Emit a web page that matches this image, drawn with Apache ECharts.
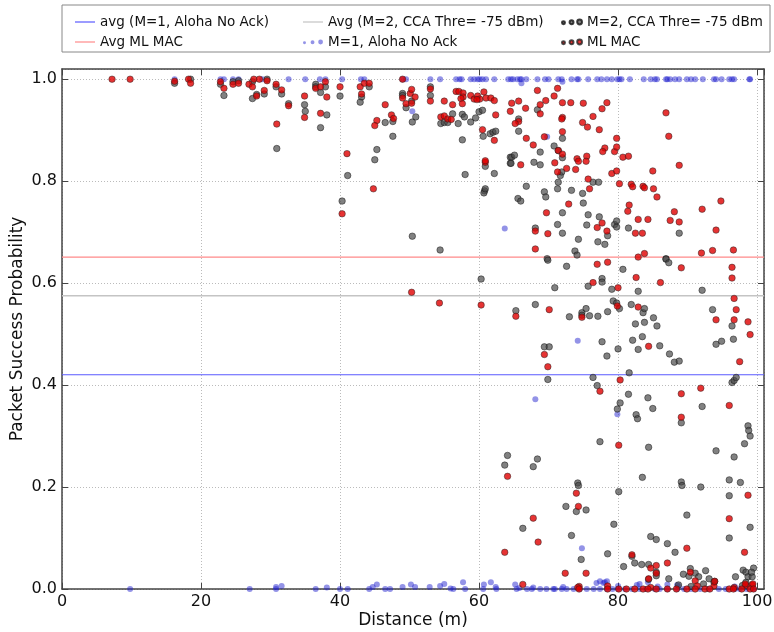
<!DOCTYPE html>
<html><head><meta charset="utf-8">
<script src="https://cdn.jsdelivr.net/npm/echarts@6/dist/echarts.min.js"></script>
<style>html,body{margin:0;padding:0;background:#fff}#c{width:774px;height:632px}</style>
</head><body><div id="c"></div>
<script>
// ---- data ----
const avgAloha = 0.4203;
const avgCca = 0.575;
const avgMl = 0.651;

const alohaTop = [16.2,22.8,23.3,24.6,25.4,28.8,32.6,35.0,37.1,37.9,40.3,43.0,43.5,49.0,49.5,53.0,54.4,56.7,57.2,57.5,58.8,59.3,59.8,60.1,60.5,61.0,62.2,64.2,64.6,64.9,65.5,65.9,66.1,66.8,68.4,69.5,70.0,71.4,71.9,73.3,74.1,74.3,75.7,77.0,77.6,78.4,79.1,79.9,80.2,80.5,81.7,83.7,84.7,85.3,85.6,86.9,87.1,87.5,88.2,88.8,89.9,90.5,91.1,92.2,93.8,94.1,94.9,96.0,96.4,96.7,98.9,99.0];
const alohaBottom = [9.8,27.0,30.8,36.5,40.0,41.1,44.2,46.5,47.2,56.3,58.0,60.6,62.5,65.4,66.9,67.6,68.8,69.7,70.7,70.9,71.9,72.6,73.6,74.5,75.5,76.5,77.4,78.4,79.2,80.0,81.0,82.0,83.1,84.0,85.3,86.0,87.1,88.5,89.5,90.5,91.8,93.0,94.5,95.5,96.8,97.5,98.5,99.5];
const alohaOther = [[66.1,0.992],[72.0,0.995],[50.4,0.937],[63.7,0.707],[69.8,0.887],[74.2,0.487],[68.1,0.372],[79.9,0.343],[74.8,0.080],
 [30.8,0.004],[31.6,0.006],[38.1,0.003],[44.7,0.004],[45.3,0.009],[49.0,0.004],[50.2,0.009],[50.8,0.004],[52.9,0.004],[54.4,0.006],[55.0,0.010],[55.9,0.001],[57.7,0.013],[60.7,0.009],[61.7,0.013],[62.4,0.004],[65.2,0.009],[65.8,0.002],[67.8,0.003],[72.1,0.004],
 [76.9,0.012],[77.4,0.015],[78.1,0.013],[78.4,0.015],[77.9,0.012],[80.0,0.006],[83.1,0.010],[82.7,0.008],[84.3,0.013],[85.7,0.005],[87.1,0.009],[88.7,0.006],[88.5,0.008],[96.8,0.005]];

const ccaPts = [[16.2,0.992],[18.5,1.0],[22.8,0.99],[23.3,0.968],[24.6,0.995],[25.4,0.997],[27.4,0.995],[27.4,0.962],[28.0,0.97],[29.5,1.0],[29.1,0.971],[30.8,0.985],[31.6,0.971],[32.6,0.952],[30.9,0.864],[34.9,0.95],[35.0,0.937],[36.5,0.99],[36.5,0.985],[37.2,0.974],[37.9,0.985],[38.1,0.93],[37.2,0.905],[40.0,0.967],[41.1,0.811],[40.3,0.761],[43.1,0.965],[42.9,0.955],[44.2,0.985],[45.3,0.862],[45.0,0.842],[46.5,0.915],[47.6,0.917],[47.6,0.888],[49.0,0.972],[49.0,0.968],[49.5,0.944],[50.3,0.957],[50.4,0.916],[50.9,0.926],[50.4,0.692],[53.0,0.968],[53.0,0.985],[54.4,0.665],[54.5,0.913],[55.0,0.915],[55.5,0.915],[56.2,0.932],[57.0,0.913],[57.6,0.931],[57.9,0.926],[57.6,0.881],[58.0,0.813],[58.8,0.916],[59.5,0.924],[60.0,0.936],[60.5,0.939],[60.6,0.888],[61.6,0.893],[62.0,0.896],[62.4,0.898],[60.9,0.829],[62.2,0.815],[60.8,0.781],[60.7,0.777],[60.9,0.785],[64.5,0.847],[64.5,0.835],
 [65.7,0.922],[65.7,0.898],[68.4,0.940],[64.7,0.847],[65.1,0.851],[64.6,0.835],[67.9,0.837],[68.8,0.832],[68.8,0.857],[70.8,0.869],[71.4,0.860],[72.0,0.884],[71.7,0.811],[71.9,0.818],[71.3,0.785],[71.4,0.798],[66.8,0.790],[65.6,0.766],[66.0,0.761],[69.4,0.779],[69.6,0.769],[73.3,0.782],[74.9,0.776],[75.0,0.757],[72.0,0.738],[71.3,0.715],[72.0,0.698],[68.1,0.708],[74.3,0.686],[73.8,0.663],[74.1,0.655],[75.5,0.714],[75.7,0.734],[77.3,0.730],[77.1,0.681],[78.1,0.676],[78.5,0.693],[79.5,0.715],[79.8,0.710],[79.8,0.722],[76.4,0.798],[77.2,0.798],[81.5,0.708],[88.8,0.698],[86.9,0.648],[69.8,0.648],[72.0,0.846],[69.9,0.645],[72.6,0.633],[86.9,0.647],[87.3,0.640],
 [60.3,0.608],[70.9,0.591],[75.7,0.594],[77.7,0.609],[77.7,0.602],[79.1,0.588],[80.7,0.627],[82.9,0.584],[92.1,0.586],[79.3,0.565],[79.8,0.561],[80.2,0.550],[78.5,0.544],[68.1,0.558],[65.3,0.546],[73.0,0.534],[74.8,0.542],[74.8,0.537],[75.4,0.550],[75.9,0.536],[77.1,0.535],[81.9,0.558],[83.6,0.542],[83.8,0.550],[82.5,0.520],[83.8,0.523],[85.1,0.532],[85.6,0.516],[93.6,0.548],[96.4,0.516],[94.1,0.480],[94.9,0.486],[96.6,0.490],[77.7,0.485],[82.1,0.488],[83.5,0.495],[82.9,0.470],[86.0,0.477],[80.0,0.471],[78.4,0.457],[87.4,0.461],[88.1,0.445],[88.8,0.447],[69.4,0.475],[70.1,0.475],[69.9,0.411],[76.4,0.415],[77.0,0.399],[81.6,0.424],[81.5,0.382],[84.3,0.375],[80.3,0.365],[79.9,0.353],[82.6,0.342],[82.8,0.334],[85.0,0.354],[92.1,0.358],[89.1,0.326],[96.4,0.405],[96.7,0.409],[97.0,0.415],[98.7,0.320],[98.8,0.311],[99.0,0.300],[98.2,0.285],
 [77.4,0.289],[84.4,0.278],[94.1,0.271],[96.7,0.259],[64.1,0.262],[63.7,0.243],[67.8,0.240],[68.4,0.255],[74.2,0.208],[74.3,0.203],[80.1,0.191],[83.5,0.219],[89.1,0.210],[89.2,0.203],[91.9,0.200],[96.0,0.214],[97.6,0.209],[96.0,0.183],[72.5,0.162],[74.0,0.152],[75.4,0.155],[66.3,0.119],[73.3,0.105],[79.4,0.127],[89.9,0.145],[96.0,0.100],[99.0,0.121],[74.7,0.058],[78.5,0.069],[82.0,0.064],[80.8,0.044],[82.4,0.051],[83.4,0.048],[84.4,0.048],[84.7,0.103],[85.5,0.097],[87.1,0.089],[88.2,0.072],[84.4,0.019],[85.5,0.033],[85.5,0.026],[87.3,0.020],[89.4,0.029],[90.4,0.040],[90.2,0.025],[91.1,0.031],[91.6,0.024],[92.6,0.036],[93.1,0.020],[92.3,0.010],[93.8,0.013],[93.9,0.015],[96.9,0.024],[98.0,0.037],[98.4,0.033],[98.7,0.024],[99.3,0.024],[99.5,0.041],[99.2,0.033],[97.9,0.007],[98.4,0.013],[88.7,0.008],[90.5,0.005]];

const mlPts = [[7.2,1.0],[9.8,1.0],[16.2,0.996],[18.2,1.0],[18.5,0.992],[22.8,0.995],[23.3,0.982],[24.6,0.99],[25.4,0.992],[26.9,0.99],[27.4,0.985],[27.6,1.0],[28.0,0.967],[28.4,1.0],[29.5,0.997],[29.1,0.978],[30.8,0.99],[31.6,0.979],[32.6,0.948],[30.9,0.912],[34.9,0.967],[34.9,0.925],[36.5,0.982],[37.2,0.985],[37.9,0.995],[38.1,0.965],[37.2,0.933],[40.0,0.985],[41.0,0.854],[40.3,0.736],[42.9,0.985],[43.5,0.992],[44.2,0.992],[43.1,0.971],[46.5,0.950],[45.3,0.919],[45.0,0.909],[44.8,0.785],[47.4,0.930],[47.7,0.923],[49.0,1.0],[49.0,0.963],[50.1,0.972],[50.3,0.980],[50.8,0.965],[49.5,0.952],[50.3,0.953],[53.0,0.981],[53.0,0.957],[55.0,0.957],[56.2,0.950],[54.5,0.926],[55.0,0.928],[55.5,0.922],[56.0,0.921],[56.7,0.976],[57.1,0.976],[57.7,0.973],[57.7,0.965],[57.4,0.962],[57.6,0.952],[58.8,0.968],[59.3,0.961],[59.8,0.967],[60.1,0.961],[60.7,0.975],[61.0,0.963],[61.7,0.963],[62.2,0.958],[59.7,0.960],[62.4,0.930],[60.5,0.901],[62.2,0.880],[60.9,0.837],[60.9,0.840],
 [64.5,0.937],[64.7,0.953],[65.7,0.957],[66.7,0.943],[68.4,0.978],[71.3,0.982],[70.8,0.967],[72.0,0.954],[69.6,0.958],[68.8,0.950],[68.8,0.932],[65.7,0.917],[65.2,0.913],[66.8,0.884],[67.8,0.871],[69.4,0.887],[72.0,0.897],[72.0,0.925],[71.9,0.922],[73.2,0.954],[75.0,0.953],[78.4,0.954],[77.7,0.942],[76.4,0.927],[74.9,0.915],[75.6,0.906],[77.3,0.901],[86.9,0.934],[87.3,0.888],[71.4,0.860],[72.0,0.853],[78.1,0.865],[77.8,0.858],[79.5,0.858],[79.8,0.867],[79.8,0.884],[80.7,0.847],[81.5,0.849],[75.5,0.849],[75.4,0.839],[74.1,0.844],[74.3,0.839],[73.9,0.823],[72.6,0.825],[71.3,0.818],[70.9,0.836],[66.0,0.832],[79.1,0.815],[79.8,0.820],[85.0,0.820],[88.8,0.831],[80.2,0.795],[81.9,0.794],[82.1,0.789],[83.6,0.790],[83.8,0.787],[85.1,0.785],[85.6,0.769],[81.6,0.753],[81.4,0.741],[82.9,0.725],[84.3,0.725],[82.5,0.698],[83.5,0.698],[87.5,0.723],[88.8,0.720],[88.1,0.740],[92.1,0.745],[94.8,0.761],[94.1,0.704],[92.0,0.659],[93.6,0.664],[96.6,0.665],[83.8,0.658],[82.9,0.651],[72.9,0.755],[75.7,0.804],[75.9,0.785],[77.0,0.709],[77.7,0.718],[78.4,0.702],[69.7,0.738],[68.1,0.702],[69.9,0.697],[68.1,0.667],
 [77.0,0.637],[78.5,0.641],[89.1,0.630],[96.4,0.631],[96.4,0.610],[50.3,0.582],[54.3,0.561],[60.3,0.557],[76.4,0.601],[80.0,0.591],[82.6,0.611],[86.1,0.601],[79.9,0.555],[70.1,0.548],[65.3,0.535],[74.8,0.533],[82.9,0.553],[94.1,0.528],[96.7,0.570],[97.0,0.548],[96.7,0.528],[98.7,0.524],[99.0,0.499],[84.4,0.476],[97.5,0.446],[69.4,0.460],[69.9,0.436],[77.4,0.388],[80.3,0.410],[89.1,0.383],[91.9,0.394],[89.1,0.337],[96.0,0.360],[80.1,0.282],[64.1,0.221],[98.7,0.184],[74.0,0.188],[74.3,0.162],[67.8,0.139],[68.5,0.092],[96.0,0.138],[63.7,0.072],[82.0,0.067],[84.7,0.041],[85.5,0.046],[89.9,0.080],[87.1,0.051],[72.4,0.031],[75.4,0.031],[66.3,0.009],[84.4,0.020],[85.5,0.031],[90.4,0.033],[91.1,0.016],[91.4,0.006],[93.8,0.006],[93.9,0.015],[98.4,0.007],[99.3,0.008],[98.2,0.072],[98.3,0.010],[99.4,0.010],[84.7,0.003],[78.5,0.006],[74.4,0.005],[74.2,0.003],[96.7,0.003]];
const mlBottom = [74.4,78.5,80.1,81.2,82.4,83.6,84.3,85.5,87.1,88.4,89.9,91.1,92.5,93.2,96.0,96.6,97.8,99.0,99.5];

const xMin = 0, xMax = 101, yMax = 1.02;

// ---- build ----
const alohaPts = alohaTop.map(x => [x, 1.0]).concat(alohaBottom.map(x => [x, 0.0]), alohaOther);
const mlAll = mlPts.concat(mlBottom.map(x => [x, 0.0]));
const hline = v => [[xMin, v], [xMax, v]];

const FONT = 'DejaVu Sans';
const circ = (cx, cy, r) => `M${cx - r},${cy} a${r},${r} 0 1,0 ${2 * r},0 a${r},${r} 0 1,0 ${-2 * r},0 Z `;
const dotsIcon = 'path://' + circ(2, 5.4, 1.3) + circ(9, 5, 1.7) + circ(16, 4.8, 2.1);
const lineIcon = 'path://M0,0 L20,0 L20,1.2 L0,1.2 Z';

const C_BLUE_L = '#5a5aff';
const C_GRAY_L = '#c4c4c4';
const C_RED_L = '#ff8a8a';

const chart = echarts.init(document.getElementById('c'), null, {renderer: 'canvas'});

const legendBase = {
  orient: 'vertical', top: 10, itemGap: 6, itemWidth: 20, itemHeight: 14,
  textStyle: {fontFamily: FONT, fontSize: 13.5, color: '#111'}
};
const axisLineStyle = {show: true, onZero: false, lineStyle: {color: '#444', width: 1.5}};
const tickStyle = {show: true, inside: true, length: 6, lineStyle: {color: '#444'}};

chart.setOption({
  animation: false,
  backgroundColor: '#fff',
  grid: {left: 62, right: 10, top: 69, bottom: 43, containLabel: false, outerBoundsMode: 'none'},
  graphic: [{type: 'rect', shape: {x: 62, y: 5, width: 708, height: 47}, style: {fill: 'none', stroke: '#888', lineWidth: 1}, z: 0}],
  legend: [
    Object.assign({}, legendBase, {left: 70, data: [
      {name: 'avg (M=1, Aloha No Ack)', icon: lineIcon},
      {name: 'Avg ML MAC', icon: lineIcon}]}),
    Object.assign({}, legendBase, {left: 298, data: [
      {name: 'Avg (M=2, CCA Thre= -75 dBm)', icon: lineIcon},
      {name: 'M=1, Aloha No Ack', icon: dotsIcon}]}),
    Object.assign({}, legendBase, {left: 556, data: [
      {name: 'M=2, CCA Thre= -75 dBm', icon: dotsIcon},
      {name: 'ML MAC', icon: dotsIcon}]})
  ],
  xAxis: [
    {type: 'value', min: xMin, max: xMax, interval: 20, position: 'bottom',
      name: 'Distance (m)', nameLocation: 'middle', nameGap: 23, nameMoveOverlap: false,
      nameTextStyle: {fontFamily: FONT, fontSize: 17, color: '#111'},
      axisLine: axisLineStyle, axisTick: tickStyle,
      axisLabel: {fontFamily: FONT, fontSize: 16, color: '#111', margin: 5, showMaxLabel: false},
      splitLine: {show: true, lineStyle: {color: '#bbb', type: [1, 2], width: 1}}},
    {type: 'value', min: xMin, max: xMax, interval: 20, position: 'top',
      axisLine: axisLineStyle, axisTick: tickStyle, axisLabel: {show: false}, splitLine: {show: false}}
  ],
  yAxis: [
    {type: 'value', min: 0, max: yMax, interval: 0.2, position: 'left',
      name: 'Packet Success Probability', nameLocation: 'middle', nameGap: 36, nameMoveOverlap: false,
      nameTextStyle: {fontFamily: FONT, fontSize: 17, color: '#111'},
      axisLine: axisLineStyle, axisTick: tickStyle,
      axisLabel: {fontFamily: FONT, fontSize: 16, color: '#111', margin: 5, showMaxLabel: false,
        formatter: v => v.toFixed(1)},
      splitLine: {show: true, lineStyle: {color: '#bbb', type: [1, 2], width: 1}}},
    {type: 'value', min: 0, max: yMax, interval: 0.2, position: 'right',
      axisLine: axisLineStyle, axisTick: tickStyle, axisLabel: {show: false}, splitLine: {show: false}}
  ],
  series: [
    {name: 'avg (M=1, Aloha No Ack)', type: 'line', data: hline(avgAloha), showSymbol: false, symbol: 'none',
      color: C_BLUE_L, lineStyle: {color: C_BLUE_L, width: 1.2}, z: 1, silent: true},
    {name: 'Avg (M=2, CCA Thre= -75 dBm)', type: 'line', data: hline(avgCca), showSymbol: false, symbol: 'none',
      color: C_GRAY_L, lineStyle: {color: C_GRAY_L, width: 1.5}, z: 1, silent: true},
    {name: 'Avg ML MAC', type: 'line', data: hline(avgMl), showSymbol: false, symbol: 'none',
      color: C_RED_L, lineStyle: {color: C_RED_L, width: 1.2}, z: 1, silent: true},
    {name: 'M=1, Aloha No Ack', type: 'scatter', data: alohaPts, symbolSize: 6, z: 2,
      itemStyle: {color: 'rgba(30,30,205,0.6)', borderWidth: 0}},
    {name: 'M=2, CCA Thre= -75 dBm', type: 'scatter', data: ccaPts, symbolSize: 6.5, z: 3,
      itemStyle: {color: 'rgba(70,70,70,0.85)', borderColor: '#111', borderWidth: 0.6}},
    {name: 'ML MAC', type: 'scatter', data: mlAll, symbolSize: 6.5, z: 4,
      itemStyle: {color: '#e00000', borderColor: '#222', borderWidth: 0.6}}
  ]
});
</script>
</body></html>
